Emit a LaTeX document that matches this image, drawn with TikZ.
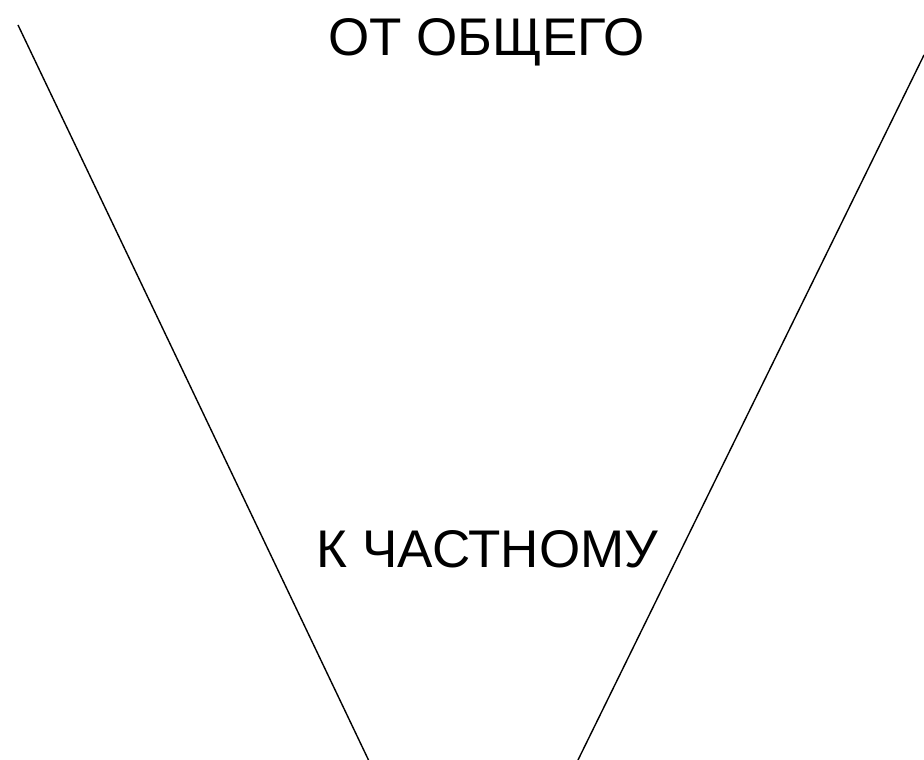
\documentclass[tikz,border=0pt]{standalone}
\usepackage{fontspec}
\setmainfont{Liberation Sans}
\begin{document}
\begin{tikzpicture}[x=1pt,y=-1pt,
  edge/.style={line width=1.4pt, black},
  label/.style={anchor=base, inner sep=0pt, font=\fontsize{53}{57}\selectfont}]
\useasboundingbox (0,0) rectangle (924,760);
\coordinate (lt) at (18,25);
\coordinate (lb) at (368.5,760);
\coordinate (rt) at (924,55);
\coordinate (rb) at (578,760);
\draw[edge] (lt) -- (lb);
\draw[edge] (rt) -- (rb);
\node[label] (top) at (486.5,56) {ОТ ОБЩЕГО};
\node[label] (bottom) at (487.5,567) {К ЧАСТНОМУ};
\end{tikzpicture}
\end{document}
